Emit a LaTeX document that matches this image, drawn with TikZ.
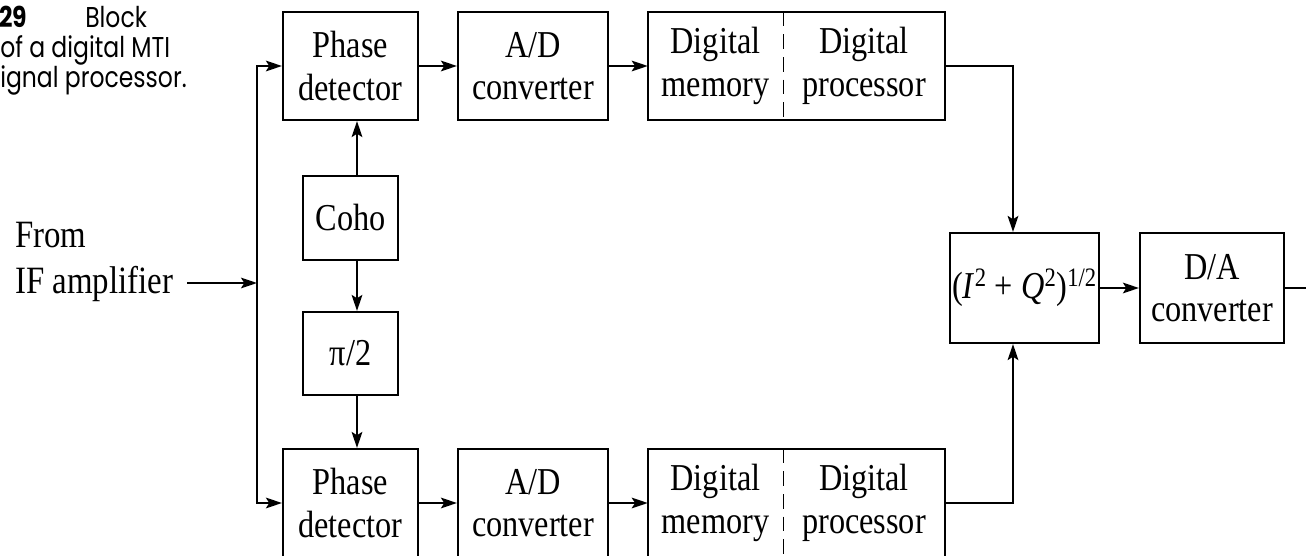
\documentclass[tikz,border=0pt]{standalone}
\usepackage{fontspec}
\setmainfont{Liberation Serif}[FakeStretch=0.85]
\newfontfamily\capfont{Poppins}[FakeStretch=0.82]
\usetikzlibrary{arrows.meta}

\begin{document}
\begin{tikzpicture}[x=0.75pt,y=-0.75pt,
  box/.style={draw, line width=1.6pt, inner sep=0pt, align=center,
    font=\fontsize{28.5}{32}\selectfont},
  cell/.style={inner sep=0pt, align=center, font=\fontsize{28.5}{32}\selectfont},
  sig/.style={line width=1.6pt, -{Stealth[length=12pt,width=8pt,inset=2.5pt]}},
  wire/.style={line width=1.6pt},
  divider/.style={line width=1pt, dash pattern=on 11pt off 6pt},
  captext/.style={inner sep=0pt, anchor=base west, font=\capfont\fontsize{21.5}{24}\selectfont}]

\useasboundingbox (0,0) rectangle (1306,556);

% caption, left margin
\node[captext] (c1) at (-1,28) {\bfseries 29};
\node[captext] (c2) at (85,28) {Block};
\node[captext] (c3) at (0,58) {of a digital MTI};
\node[captext] (c4) at (0,88) {ignal processor.};

% input label
\node[inner sep=0pt, anchor=west, align=left, font=\fontsize{29}{34}\selectfont]
  (src) at (15,262) {From\\IF amplifier};

% in-phase channel (top row)
\node[box, minimum width=101.25pt, minimum height=81pt] (pd1) at (350.5,66) {Phase\\detector};
\node[box, minimum width=112.5pt, minimum height=81pt] (ad1) at (533,66) {A/D\\converter};
\node[cell, minimum width=101.25pt, minimum height=81pt] (mem1) at (715.5,66) {Digital\\memory};
\node[cell, minimum width=121.5pt, minimum height=81pt] (proc1) at (864,66) {Digital\\processor};
\draw[wire] (mem1.north west) rectangle (proc1.south east);
\draw[divider] (mem1.north east) -- (mem1.south east);

% quadrature channel (bottom row)
\node[box, minimum width=101.25pt, minimum height=81pt] (pd2) at (350.5,503) {Phase\\detector};
\node[box, minimum width=112.5pt, minimum height=81pt] (ad2) at (533,503) {A/D\\converter};
\node[cell, minimum width=101.25pt, minimum height=81pt] (mem2) at (715.5,503) {Digital\\memory};
\node[cell, minimum width=121.5pt, minimum height=81pt] (proc2) at (864,503) {Digital\\processor};
\draw[wire] (mem2.north west) rectangle (proc2.south east);
\draw[divider] (mem2.north east) -- (mem2.south east);

% reference oscillator and phase shifter
\node[box, minimum width=71.25pt, minimum height=63pt] (coho) at (350.5,218) {Coho};
\node[box, minimum width=71.25pt, minimum height=62.25pt] (pi2) at (350.5,353.5) {π/2};

% magnitude and output converter
\node[box, minimum width=111.75pt, minimum height=82.5pt] (iq) at (1024.5,288)
  {(\textit{I}\textsuperscript{2} + \textit{Q}\textsuperscript{2})\textsuperscript{1/2}};
\node[box, minimum width=108pt, minimum height=82.5pt] (da) at (1212,288) {D/A\\converter};

% routing points
\coordinate (ins) at (187,283);
\coordinate (trunk) at (257,283);
\coordinate (cx) at (357,0);
\coordinate (jx) at (1013,0);
\coordinate (out) at (1306,288);

% connectors
\draw[sig] (ins) -- (trunk);
\draw[sig] (trunk) |- (pd1.west);
\draw[sig] (trunk) |- (pd2.west);
\draw[sig] (pd1) -- (ad1);
\draw[sig] (ad1) -- (mem1);
\draw[sig] (pd2) -- (ad2);
\draw[sig] (ad2) -- (mem2);
\draw[sig] (coho.north -| cx) -- (pd1.south -| cx);
\draw[sig] (coho.south -| cx) -- (pi2.north -| cx);
\draw[sig] (pi2.south -| cx) -- (pd2.north -| cx);
\draw[sig] (proc1.east) -| (iq.north -| jx);
\draw[sig] (proc2.east) -| (iq.south -| jx);
\draw[sig] (iq) -- (da);
\draw[wire] (da.east) -- (out);
\end{tikzpicture}
\end{document}
